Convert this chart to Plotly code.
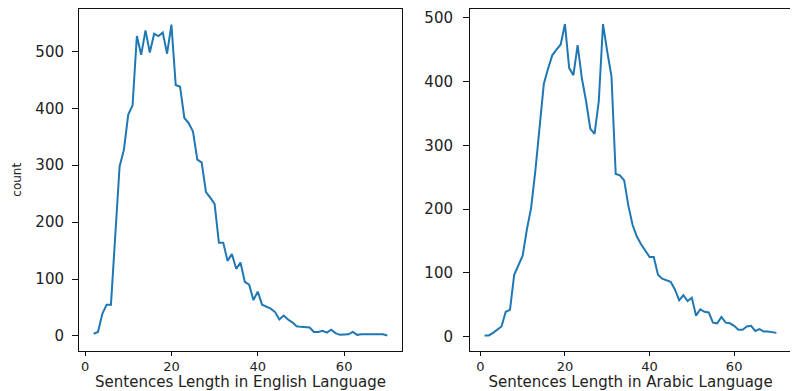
import plotly.graph_objects as go

# English sentence lengths (x) and counts
en_len = list(range(2, 71))
en_count = [4, 7, 39, 55, 55, 170, 298, 327, 389, 405, 527, 494, 537, 498, 531,
            527, 533, 496, 547, 441, 438, 383, 374, 359, 310, 305, 253, 243, 232,
            164, 164, 132, 144, 118, 129, 95, 90, 63, 78, 55, 52, 48, 42, 29, 36,
            29, 24, 17, 16, 16, 15, 7, 7, 9, 6, 11, 5, 2, 2, 3, 7, 2, 3, 3, 3, 3,
            4, 3, 1]

# Arabic sentence lengths (x) and counts
ar_len = list(range(1, 71))
ar_count = [2, 2, 6, 11, 16, 39, 42, 97, 113, 127, 168, 202, 260, 325, 396, 420,
            441, 450, 458, 490, 421, 410, 457, 405, 369, 326, 318, 369, 490, 447,
            408, 255, 253, 245, 205, 175, 157, 145, 135, 125, 125, 97, 91, 89, 86,
            74, 57, 65, 56, 61, 33, 43, 39, 38, 22, 21, 31, 22, 21, 17, 11, 11, 16,
            17, 9, 12, 8, 8, 7, 6]

xticks = [0, 20, 40, 60]
yticks = [0, 100, 200, 300, 400, 500]

LINE = "#1f77b4"
FONT = "DejaVu Sans"
OFF = 8              # default page body margin
W, H = 798 - OFF, 391 - OFF


def fx(px):
    return min(1.0, max(0.0, (px - OFF) / W))


def fy(py):
    return min(1.0, max(0.0, 1 - (py - OFF) / H))


fig = go.Figure()
fig.add_trace(go.Scatter(x=en_len, y=en_count, mode="lines",
                         line=dict(color=LINE, width=2), xaxis="x", yaxis="y",
                         showlegend=False))
fig.add_trace(go.Scatter(x=ar_len, y=ar_count, mode="lines",
                         line=dict(color=LINE, width=2), xaxis="x2", yaxis="y2",
                         showlegend=False))

axis_common = dict(showline=True, linecolor="#111", linewidth=1, mirror=True,
                   showgrid=False, zeroline=False, ticks="outside",
                   tickcolor="#111", automargin=False)
tickfont_y = dict(family=FONT, size=15, color="#222")
tickfont_x = dict(family=FONT, size=13, color="#222")
titlefont = dict(family=FONT, size=15, color="#222")

ydom = [fy(351), fy(8.5)]
fig.update_layout(
    width=W, height=H,
    margin=dict(l=0, r=0, t=0, b=0),
    paper_bgcolor="white", plot_bgcolor="white",
    xaxis=dict(domain=[fx(79), fx(402)], range=[-1.4, 73.4], tickvals=xticks,
               ticklen=4, ticklabelstandoff=-1, anchor="y", tickfont=tickfont_x,
               title=dict(text="Sentences Length in English Language",
                          font=titlefont, standoff=1),
               **axis_common),
    yaxis=dict(domain=ydom, range=[-26.4, 575.4], tickvals=yticks, ticklen=6,
               ticklabelstandoff=5, anchor="x", tickfont=tickfont_y,
               title=dict(text="count", font=dict(family=FONT, size=12, color="#222"),
                          standoff=11),
               **axis_common),
    xaxis2=dict(domain=[fx(470), fx(791)], range=[-2.45, 73.45], tickvals=xticks,
                ticklen=4, ticklabelstandoff=-1, anchor="y2", tickfont=tickfont_x,
                title=dict(text="Sentences Length in Arabic Language",
                           font=titlefont, standoff=1),
                **axis_common),
    yaxis2=dict(domain=ydom, range=[-22.4, 514.4], tickvals=yticks, ticklen=6,
                ticklabelstandoff=7, anchor="x2", tickfont=tickfont_y,
                **axis_common),
)

fig.write_html("out.html")
